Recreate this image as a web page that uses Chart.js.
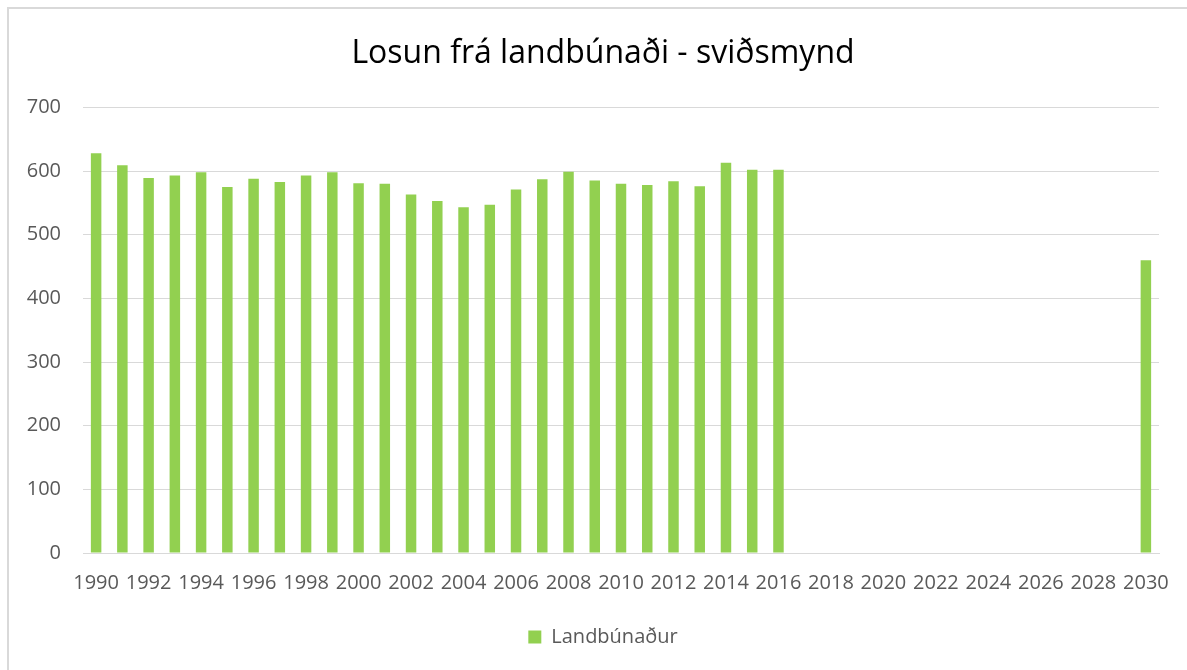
<!DOCTYPE html>
<html>
<head>
<meta charset="utf-8">
<script src="https://cdn.jsdelivr.net/npm/chart.js@4/dist/chart.umd.min.js"></script>
<style>
  html, body { margin: 0; padding: 0; background: #fff; overflow: hidden; width: 1187px; height: 670px; }
  #wrap { position: absolute; left: 7px; top: 7px; width: 1190px; height: 680px; border-left: 2px solid #d9d9d9; border-top: 2px solid #d9d9d9; box-sizing: border-box; }
  #c { display: block; }
</style>
</head>
<body>
<div id="wrap"><canvas id="c" width="1188" height="657"></canvas></div>
<script>
const years = [];
for (let y = 1990; y <= 2030; y++) years.push(String(y));
const seriesName = 'Landbúnaður';
const emissions = [
  628, 609, 589, 593, 598, 575, 588, 583, 593, 598,
  581, 580, 563, 553, 543, 547, 571, 587, 599, 585,
  580, 578, 584, 576, 613, 602, 602,
  null, null, null, null, null, null, null, null, null, null, null, null, null,
  460
];
const yTicks = [0, 100, 200, 300, 400, 500, 600, 700];
const titleText = 'Losun frá landbúnaði - sviðsmynd';

const FONT = "'Open Sans', sans-serif";
new Chart(document.getElementById('c'), {
  type: 'bar',
  data: {
    labels: years,
    datasets: [{
      label: seriesName,
      data: emissions,
      backgroundColor: '#92D050',
      borderWidth: 0,
      barPercentage: 0.4,
      categoryPercentage: 1.0,
      yAxisID: 'y'
    }]
  },
  options: {
    responsive: false,
    animation: false,
    layout: { padding: { top: 0, right: 0, bottom: 9, left: 0 } },
    plugins: {
      title: {
        display: true,
        text: titleText,
        color: '#000',
        font: { family: FONT, size: 32, weight: 'normal' },
        padding: { top: 26, bottom: 34 }
      },
      legend: {
        position: 'bottom',
        labels: {
          color: '#595959',
          font: { family: FONT, size: 20 },
          boxWidth: 13, boxHeight: 13,
          padding: 14
        }
      },
      tooltip: { enabled: false }
    },
    scales: {
      x: {
        grid: { display: false, drawTicks: false },
        border: { display: true, color: '#d9d9d9', width: 1 },
        ticks: {
          color: '#595959',
          font: { family: FONT, size: 20 },
          autoSkip: false,
          maxRotation: 0,
          padding: 18,
          callback: function (v, i) { return i % 2 === 0 ? years[i] : ''; }
        }
      },
      y: {
        min: 0, max: 700,
        afterBuildTicks: s => { s.ticks = yTicks.map(v => ({ value: v })); },
        afterFit: s => { s.width = 74; },
        grid: { color: '#d9d9d9', lineWidth: 1, drawTicks: false },
        border: { display: false },
        ticks: {
          color: '#595959',
          font: { family: FONT, size: 20 },
          padding: 22
        }
      },
      yRightSpace: {
        position: 'right',
        min: 0, max: 700,
        afterFit: s => { s.width = 38; },
        grid: { display: false, drawTicks: false },
        border: { display: false },
        ticks: { display: false }
      }
    }
  }
});
</script>
</body>
</html>
